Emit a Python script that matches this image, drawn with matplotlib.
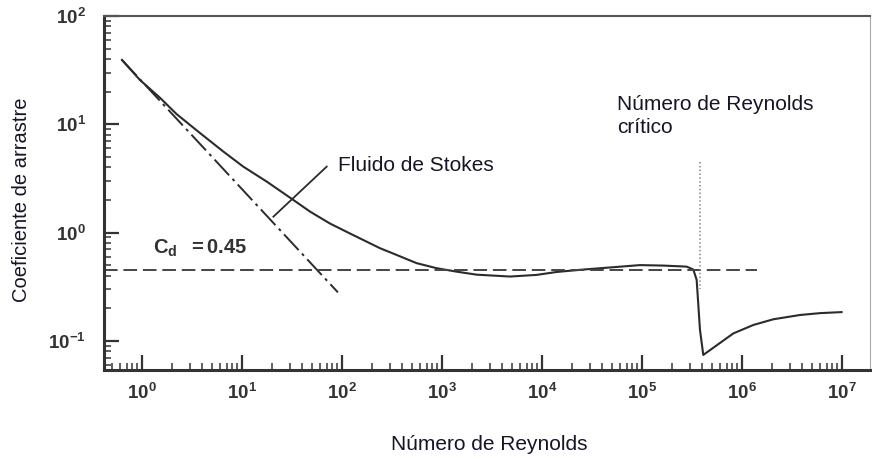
import numpy as np
import matplotlib
matplotlib.use("Agg")
import matplotlib.pyplot as plt
from matplotlib.ticker import FixedLocator, FixedFormatter, LogLocator

plt.rcParams['font.family'] = ['Liberation Sans', 'DejaVu Sans']
plt.rcParams['mathtext.fontset'] = 'custom'
plt.rcParams['mathtext.rm'] = 'Liberation Sans'
plt.rcParams['mathtext.bf'] = 'Liberation Sans:bold'
plt.rcParams['mathtext.it'] = 'Liberation Sans:italic'

# curva de arrastre
re_curva = [0.63, 0.955, 1.51, 2.22, 3.8, 6.5, 10.3, 17.7, 30.2, 47.9, 75.9, 120,
            240, 324, 558, 885, 1400, 2220, 4790, 8850, 1.40e4, 2.59e4, 5.16e4,
            9.55e4, 1.63e5, 2.80e5, 3.26e5, 3.52e5, 3.8e5, 4.1e5, 8.2e5, 1.30e6,
            2.06e6, 3.8e6, 6.03e6, 9.9e6]
cd_curva = [39.3, 25.6, 17.6, 12.4, 8.3, 5.6, 4.06, 2.95, 2.10, 1.56, 1.21, 0.98,
            0.716, 0.640, 0.521, 0.468, 0.435, 0.408, 0.392, 0.406, 0.432, 0.455, 0.478,
            0.500, 0.495, 0.484, 0.455, 0.365, 0.126, 0.074, 0.117, 0.140,
            0.158, 0.173, 0.180, 0.184]

# flujo de Stokes
re_stokes = [0.63, 91]
cd_stokes = [39.3, 0.28]

# Cd constante
re_cte = [0.42, 1.4e6]
cd_cte = [0.45, 0.45]

# Reynolds critico
re_crit = [3.8e5, 3.8e5]
cd_crit = [4.5, 0.3]

# linea de la etiqueta de Stokes
re_flecha = [70.3, 20.6]
cd_flecha = [4.06, 1.40]

xticks = [1e0, 1e1, 1e2, 1e3, 1e4, 1e5, 1e6, 1e7]
xlabels = [r'$\mathbf{10^{%d}}$' % i for i in range(8)]
yticks = [1e-1, 1e0, 1e1, 1e2]
ylabels = [r'$\mathbf{10^{-1}}$', r'$\mathbf{10^{0}}$', r'$\mathbf{10^{1}}$', r'$\mathbf{10^{2}}$']

fig = plt.figure(figsize=(8.72, 4.59), dpi=100)
ax = fig.add_axes([104/872, 1-370/459, 766/872, 354/459])

ln = '#2b2b2b'
ax.plot(re_curva, cd_curva, color=ln, lw=1.5)
ax.plot(re_stokes, cd_stokes, color=ln, lw=1.4, dashes=(11, 2.5, 1.5, 2.5))
ax.plot(re_cte, cd_cte, color='#444444', lw=1.4, dashes=(7, 3))
ax.plot(re_crit, cd_crit, color='#888888', lw=1.1, dashes=(1, 1.5))
ax.plot(re_flecha, cd_flecha, color=ln, lw=1.3)

ax.set_xscale('log')
ax.set_yscale('log')
ax.set_xlim(10**-0.38, 10**7.28)
ax.set_ylim(10**-1.27, 100)

ax.xaxis.set_major_locator(FixedLocator(xticks))
ax.xaxis.set_major_formatter(FixedFormatter(xlabels))
ax.yaxis.set_major_locator(FixedLocator(yticks))
ax.yaxis.set_major_formatter(FixedFormatter(ylabels))
ax.xaxis.set_minor_locator(LogLocator(base=10, subs=np.arange(2, 10)))
ax.yaxis.set_minor_locator(LogLocator(base=10, subs=np.arange(2, 10)))
ax.xaxis.set_minor_formatter(plt.NullFormatter())
ax.yaxis.set_minor_formatter(plt.NullFormatter())

ax.tick_params(which='major', direction='in', length=11, width=1.6, color='#333333',
               labelsize=13.5, labelcolor='#333333')
ax.tick_params(which='minor', direction='in', length=5, width=1.2, color='#444444')
ax.tick_params(axis='x', which='major', pad=9)
ax.tick_params(axis='y', which='major', pad=13)

for s in ['left', 'bottom']:
    ax.spines[s].set_linewidth(2.2)
    ax.spines[s].set_color('#333333')
ax.spines['top'].set_linewidth(1.5)
ax.spines['top'].set_color('#555555')
ax.spines['right'].set_linewidth(0.8)
ax.spines['right'].set_color('#aaaaaa')

txt = '#151525'
ax.text(1.3, 0.72, r'$\mathbf{C_{d}}$  $\mathbf{=0.45}$', fontsize=14.5, color='#333333',
        va='center', ha='left')
ax.text(91, 4.2, 'Fluido de Stokes', fontsize=15, color=txt, va='center', ha='left')
fig.text(617/872, 1-95/459, 'Número de Reynolds\ncrítico', fontsize=15, color=txt,
         va='top', ha='left', linespacing=1.25)

fig.text(489/872, 1-445/459, 'Número de Reynolds', fontsize=15, color=txt,
         ha='center', va='center')
fig.text(22/872, 1-200/459, 'Coeficiente de arrastre', fontsize=14.5, color=txt,
         rotation=90, ha='center', va='center')

fig.savefig('out.png', dpi=100)
